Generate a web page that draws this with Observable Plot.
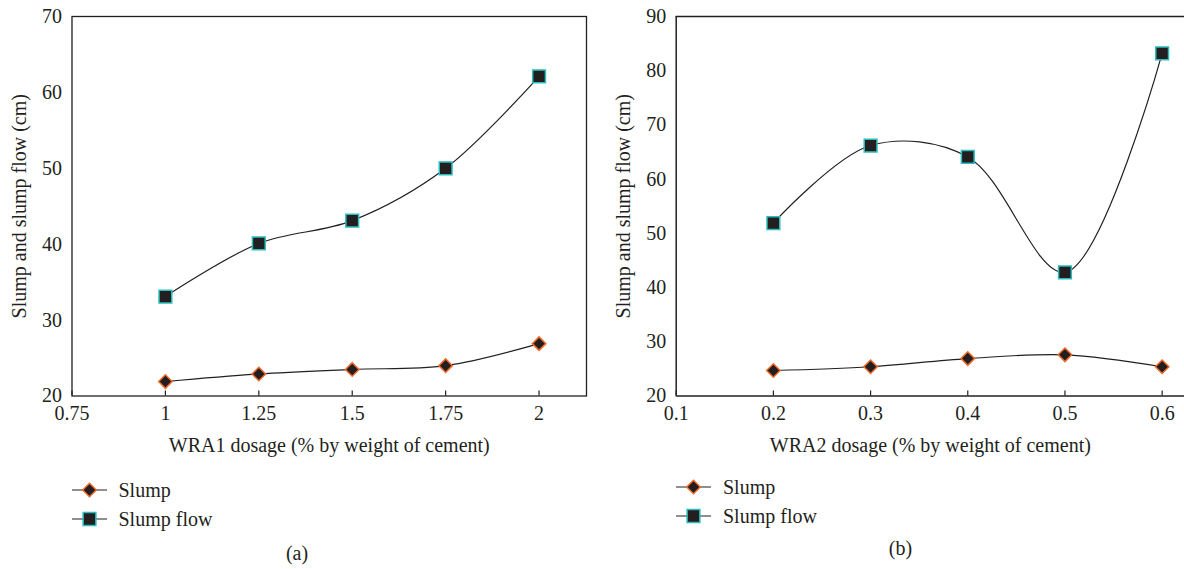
<!DOCTYPE html>
<html>
<head>
<meta charset="utf-8">
<script src="https://cdn.jsdelivr.net/npm/d3@7"></script>
<script src="https://cdn.jsdelivr.net/npm/@observablehq/plot@0.6"></script>
<style>
  html, body { margin: 0; padding: 0; background: #ffffff; }
  #wrap { position: relative; width: 1184px; height: 569px; overflow: hidden; font-family: "Liberation Serif", "DejaVu Serif", serif; color: #231f20; }
  .panel { position: absolute; top: 0; width: 592px; height: 569px; }
  .panel svg.plot { position: absolute; left: 0; top: 0; }
  .abs { position: absolute; font-size: 20px; line-height: 20px; white-space: nowrap; }
</style>
</head>
<body>
<div id="wrap">
  <div class="panel" id="panelA" style="left:0px"></div>
  <div class="panel" id="panelB" style="left:592px"></div>
</div>
<script>
// ---- data ----
const wra1Dosage = [1, 1.25, 1.5, 1.75, 2];
const wra1Slump = [21.9, 22.9, 23.5, 24.0, 26.9];
const wra1SlumpFlow = [33.1, 40.1, 43.1, 50.0, 62.1];

const wra2Dosage = [0.2, 0.3, 0.4, 0.5, 0.6];
const wra2Slump = [24.7, 25.4, 26.9, 27.6, 25.4];
const wra2SlumpFlow = [51.9, 66.2, 64.1, 42.8, 83.2];

const wra1XTicks = [0.75, 1, 1.25, 1.5, 1.75, 2];
const wra2XTicks = [0.1, 0.2, 0.3, 0.4, 0.5, 0.6];
const wra1YTicks = [20, 30, 40, 50, 60, 70];
const wra2YTicks = [20, 30, 40, 50, 60, 70, 80, 90];

const seriesNames = ["Slump", "Slump flow"];
const xLabels = ["WRA1 dosage (% by weight of cement)", "WRA2 dosage (% by weight of cement)"];
const captions = ["(a)", "(b)"];

// ---- styles ----
const INK = "#231f20";
const ORANGE = "#ef6a2a";
const TEAL = "#2bbdbd";
const FONT = "'Liberation Serif', 'DejaVu Serif', serif";
const DIAMOND_R = 6.1;
const SQUARE_R = 7.2;

function toRows(xs, ys) { return xs.map((x, i) => ({x, y: ys[i]})); }

function makePanel(el, cfg) {
  const slump = toRows(cfg.dosage, cfg.slump);
  const flow = toRows(cfg.dosage, cfg.flow);
  const [y0, y1] = cfg.yDomain;
  const [x0, x1] = cfg.xDomain;
  const borderMarks = cfg.fullFrame
    ? [Plot.frame({stroke: INK, strokeWidth: 1.3})]
    : [
        Plot.ruleY([y1], {stroke: INK, strokeWidth: 1.3}),
        Plot.ruleY([y0], {stroke: INK, strokeWidth: 1.5}),
        Plot.ruleX([x0], {stroke: INK, strokeWidth: 1.5})
      ];
  const chart = Plot.plot({
    width: 592,
    height: 462,
    marginLeft: cfg.marginLeft,
    marginRight: cfg.marginRight,
    marginTop: 16,
    marginBottom: 66.5,
    style: {fontFamily: FONT, fontSize: "20px", color: INK, background: "transparent", overflow: "visible"},
    x: {domain: cfg.xDomain},
    y: {domain: cfg.yDomain},
    marks: [
      ...borderMarks,
      Plot.axisY({ticks: cfg.yTicks, tickSize: 0, tickPadding: 10, tickFormat: d => String(d),
        label: "Slump and slump flow (cm)", labelAnchor: "center", labelOffset: cfg.yLabelOffset, labelArrow: "none"}),
      Plot.axisX({ticks: cfg.xTicks, tickSize: 5, dy: -5, tickFormat: () => "", label: null, stroke: INK, strokeWidth: 1.2}),
      Plot.axisX({ticks: cfg.xTicks, tickSize: 0, tickPadding: 10, tickFormat: d => String(d),
        label: cfg.xLabel, labelAnchor: "center", labelOffset: 56, labelArrow: "none"}),
      Plot.line(slump, {x: "x", y: "y", curve: "catmull-rom", stroke: INK, strokeWidth: 1.2}),
      Plot.line(flow, {x: "x", y: "y", curve: "catmull-rom", stroke: INK, strokeWidth: 1.2}),
      Plot.dot(slump, {x: "x", y: "y", symbol: "diamond2", r: DIAMOND_R, fill: INK, stroke: ORANGE, strokeWidth: 1.5}),
      Plot.dot(flow, {x: "x", y: "y", symbol: "square", r: SQUARE_R, fill: INK, stroke: TEAL, strokeWidth: 1.5})
    ]
  });
  chart.classList.add("plot");
  el.appendChild(chart);

  // legend
  const symbols = [
    {type: d3.symbolDiamond2, size: Math.PI * DIAMOND_R * DIAMOND_R, stroke: ORANGE},
    {type: d3.symbolSquare, size: Math.PI * SQUARE_R * SQUARE_R, stroke: TEAL}
  ];
  seriesNames.forEach((name, i) => {
    const cy = cfg.legendY + i * cfg.legendStep;
    const sw = d3.create("svg").attr("width", 36).attr("height", 20)
      .style("position", "absolute").style("left", cfg.legendX + "px").style("top", (cy - 10) + "px")
      .style("overflow", "visible");
    sw.append("line").attr("x1", 0).attr("x2", 35).attr("y1", 10).attr("y2", 10)
      .attr("stroke", INK).attr("stroke-width", 1.2);
    sw.append("path").attr("transform", "translate(17.5,10)")
      .attr("d", d3.symbol().type(symbols[i].type).size(symbols[i].size)())
      .attr("fill", INK).attr("stroke", symbols[i].stroke).attr("stroke-width", 1.5);
    el.appendChild(sw.node());
    const t = document.createElement("div");
    t.className = "abs";
    t.textContent = name;
    t.style.left = (cfg.legendX + 47) + "px";
    t.style.top = (cy + 7 - 16.75) + "px";
    el.appendChild(t);
  });

  const cap = document.createElement("div");
  cap.className = "abs";
  cap.textContent = cfg.caption;
  cap.style.left = "0px";
  cap.style.width = cfg.captionCenter * 2 + "px";
  cap.style.textAlign = "center";
  cap.style.top = (cfg.captionBaseline - 16.75) + "px";
  el.appendChild(cap);
}

makePanel(document.getElementById("panelA"), {
  dosage: wra1Dosage, slump: wra1Slump, flow: wra1SlumpFlow,
  xDomain: [0.75, 2.127], yDomain: [20, 70],
  xTicks: wra1XTicks, yTicks: wra1YTicks,
  xLabel: xLabels[0], caption: captions[0],
  marginLeft: 71.5, marginRight: 6, fullFrame: true, yLabelOffset: 60,
  legendX: 71.5, legendY: 489.5, legendStep: 29, captionCenter: 297, captionBaseline: 560
});

makePanel(document.getElementById("panelB"), {
  dosage: wra2Dosage, slump: wra2Slump, flow: wra2SlumpFlow,
  xDomain: [0.1, 0.623], yDomain: [20, 90],
  xTicks: wra2XTicks, yTicks: wra2YTicks,
  xLabel: xLabels[1], caption: captions[1],
  marginLeft: 83.7, marginRight: 0, fullFrame: false, yLabelOffset: 60,
  legendX: 84, legendY: 487, legendStep: 28.5, captionCenter: 308.5, captionBaseline: 555
});
</script>
</body>
</html>
